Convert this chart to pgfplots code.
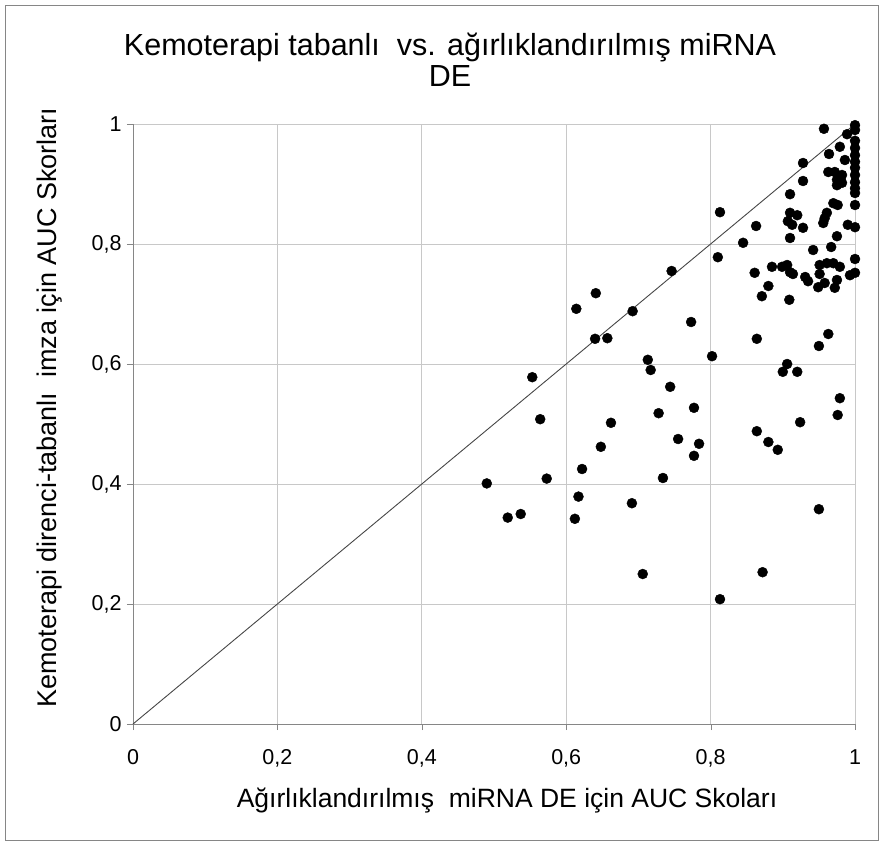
\documentclass[border=0pt]{standalone}
\usepackage{pgfplots}
\pgfplotsset{compat=1.18}
\usepackage{fontspec}
\setmainfont{Liberation Sans}
\definecolor{axgray}{RGB}{134,134,134}
\definecolor{gridgray}{RGB}{200,200,200}
\definecolor{diaggray}{RGB}{70,70,70}
\begin{document}
\begin{tikzpicture}[x=1pt,y=1pt]
\useasboundingbox (-133,-120) rectangle (749,724);
\begin{axis}[
  at={(0,0)}, anchor=south west,
  scale only axis, width=722pt, height=600pt,
  xmin=0, xmax=1, ymin=0, ymax=1,
  axis x line*=bottom, axis y line*=left,
  axis line style={axgray, -},
  xtick={0,0.2,0.4,0.6,0.8,1}, ytick={0,0.2,0.4,0.6,0.8,1},
  grid=major, major grid style={gridgray, line width=0.8pt},
  tick align=outside, major tick length=6pt,
  tick style={axgray},
  /pgf/number format/assume math mode=true,
  /pgf/number format/use comma,
  /pgf/number format/fixed,
  ticklabel style={font=\fontsize{21.5}{24}\selectfont},
  xticklabel style={yshift=-16pt},
  yticklabel style={xshift=-2pt},
  xlabel={Ağırlıklandırılmış\ \ miRNA DE için AUC Skoları},
  ylabel={Kemoterapi direnci-tabanlı\ \ imza için AUC Skorları},
  xlabel style={font=\fontsize{26.5}{30}\selectfont, at={(axis description cs:0.518,-0.127)}, anchor=center},
  ylabel style={font=\fontsize{27}{30}\selectfont, at={(axis description cs:-0.115,0.527)}, anchor=center, rotate=0},
  clip=false,
]
\addplot[no marks, diaggray, line width=0.9pt] coordinates {(0,0) (1,1)};
\addplot[only marks, mark=*, mark size=5pt, black] coordinates {
(0.490,0.401) (0.519,0.344) (0.537,0.350) (0.553,0.578) (0.564,0.508)
(0.573,0.409) (0.612,0.342) (0.617,0.379) (0.614,0.692) (0.622,0.425)
(0.640,0.642) (0.641,0.718) (0.648,0.462) (0.657,0.643) (0.662,0.502)
(0.691,0.368) (0.692,0.688) (0.706,0.250) (0.713,0.607) (0.717,0.590)
(0.728,0.518) (0.734,0.410) (0.744,0.562) (0.755,0.475) (0.773,0.670)
(0.777,0.527) (0.777,0.447) (0.784,0.467) (0.802,0.613) (0.813,0.208)
(0.746,0.755) (0.810,0.778) (0.813,0.853) (0.845,0.802) (0.863,0.830)
(0.861,0.752)
(0.864,0.488) (0.880,0.470) (0.893,0.457) (0.924,0.503) (0.976,0.515)
(0.979,0.543) (0.950,0.358) (0.872,0.253)
(0.885,0.762) (0.899,0.762) (0.906,0.765) (0.910,0.753) (0.914,0.750)
(0.931,0.745) (0.935,0.738) (0.951,0.765) (0.951,0.750) (0.961,0.768)
(0.970,0.768) (0.979,0.762) (0.975,0.740) (0.958,0.735) (0.949,0.728)
(0.972,0.727) (0.993,0.748) (1.000,0.752) (1.000,0.775) (0.880,0.730)
(0.871,0.713) (0.909,0.707) (0.864,0.642) (0.963,0.650) (0.950,0.630)
(0.906,0.600) (0.900,0.587) (0.920,0.587)
(0.957,0.992) (1.000,0.998) (1.000,0.990) (0.989,0.983) (0.979,0.962)
(0.964,0.950) (1.000,0.972) (1.000,0.960) (1.000,0.948) (1.000,0.937)
(1.000,0.927) (1.000,0.915) (1.000,0.903) (1.000,0.893) (0.986,0.940)
(0.928,0.935) (0.963,0.920) (0.972,0.920) (0.982,0.915) (0.975,0.907)
(0.975,0.898) (0.982,0.902) (0.928,0.905) (1.000,0.885) (0.910,0.883)
(0.970,0.868) (0.976,0.865) (1.000,0.865) (0.910,0.852) (0.920,0.848)
(0.907,0.838) (0.913,0.832) (0.928,0.827) (0.956,0.835) (0.958,0.843)
(0.961,0.852) (0.990,0.832) (1.000,0.828) (0.910,0.810) (0.942,0.790)
(0.967,0.795) (0.975,0.813)
};
\end{axis}
\draw[axgray, line width=0.8pt] (-128,-116) rectangle (745,719);
\node[align=center, font=\fontsize{30.5}{31}\selectfont] at (317,664) {Kemoterapi tabanlı\ \ vs. ağırlıklandırılmış miRNA\\DE};
\end{tikzpicture}
\end{document}
